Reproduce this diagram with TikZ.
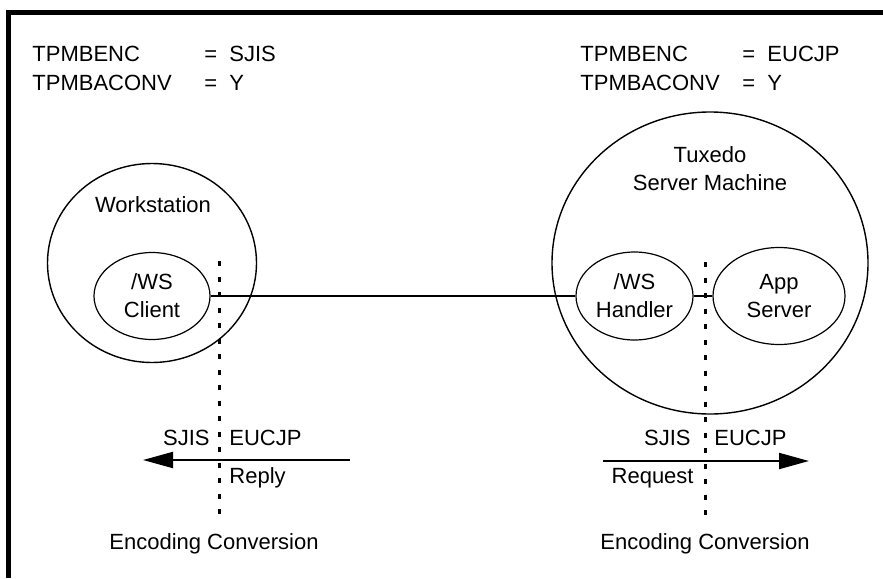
\documentclass[tikz,border=0pt]{standalone}
\usepackage{fontspec}
\setmainfont{Liberation Sans}
\usetikzlibrary{shapes.geometric,arrows.meta,positioning}

\begin{document}
\begin{tikzpicture}[x=0.5pt,y=-0.5pt,
    every node/.style={font=\fontsize{11}{14}\selectfont},
    hostEllipse/.style={draw,ellipse,line width=0.7pt,inner sep=0pt},
    procEllipse/.style={draw,ellipse,line width=0.6pt,inner sep=0pt,align=center},
    convLine/.style={line width=1.5pt,dash pattern=on 2.5pt off 5.25pt},
    flowArrow/.style={line width=1pt,-{Triangle[length=15pt,width=8pt]}},
    lbl/.style={inner sep=0pt}]
    \useasboundingbox (0,0) rectangle (883,578);
    % frame on top and left only
    \draw[line width=2.5pt] (883,12.5) -- (8.5,12.5) -- (8.5,578);

    % environment settings
    \node[lbl,anchor=mid west] (EncKeyL)  at (32,56) {TPMBENC};
    \node[lbl,anchor=mid west] (EncValL)  at (204,56) {= \ SJIS};
    \node[lbl,anchor=mid west] (ConvKeyL) at (32,85) {TPMBACONV};
    \node[lbl,anchor=mid west] (ConvValL) at (204,85) {= \ Y};
    \node[lbl,anchor=mid west] (EncKeyR)  at (580,56) {TPMBENC};
    \node[lbl,anchor=mid west] (EncValR)  at (742,56) {= \ EUCJP};
    \node[lbl,anchor=mid west] (ConvKeyR) at (580,85) {TPMBACONV};
    \node[lbl,anchor=mid west] (ConvValR) at (742,85) {= \ Y};

    % machines
    \node[hostEllipse,minimum width=104.5pt,minimum height=99.5pt] (Workstation) at (152,263) {};
    \node[lbl] (WorkstationName) at (153,205) {Workstation};
    \node[hostEllipse,minimum width=158pt,minimum height=151pt] (Server) at (710,263) {};
    \node[lbl,align=center] (ServerName) at (710,169) {Tuxedo\\Server Machine};

    % processes
    \node[procEllipse,minimum width=58pt,minimum height=43.5pt] (Client) at (152,296) {/WS\\Client};
    \node[procEllipse,minimum width=58.5pt,minimum height=44pt] (Handler) at (634.5,296) {/WS\\Handler};
    \node[procEllipse,minimum width=66pt,minimum height=48.5pt] (AppServer) at (779,296) {App\\Server};
    \draw[line width=0.6pt] (Client.east) -- (Handler.west);
    \draw[line width=0.6pt] (Handler.east) -- (AppServer.west);

    % encoding conversion points
    \coordinate (ConvTopL) at (219,261);
    \coordinate (ConvBotL) at (219,520);
    \coordinate (ConvTopR) at (705,262);
    \coordinate (ConvBotR) at (705,520);
    \draw[convLine] (ConvTopL) -- (ConvBotL);
    \draw[convLine] (ConvTopR) -- (ConvBotR);
    \node[lbl] (ConvNameL) at (214,544) {Encoding Conversion};
    \node[lbl] (ConvNameR) at (705,544) {Encoding Conversion};

    % reply flow
    \coordinate (ReplyStart) at (350,460);
    \coordinate (ReplyEnd)   at (143,460);
    \draw[flowArrow] (ReplyStart) -- (ReplyEnd);
    \node[lbl,anchor=mid east] (SjisL)  at (210,440) {SJIS};
    \node[lbl,anchor=mid west] (EucL)   at (229,440) {EUCJP};
    \node[lbl,anchor=mid west] (Reply)  at (229,478) {Reply};

    % request flow
    \coordinate (RequestStart) at (603,461);
    \coordinate (RequestEnd)   at (809,461);
    \draw[flowArrow] (RequestStart) -- (RequestEnd);
    \node[lbl,anchor=mid east] (SjisR)   at (691,440) {SJIS};
    \node[lbl,anchor=mid west] (EucR)    at (714,440) {EUCJP};
    \node[lbl,anchor=mid east] (Request) at (694,478) {Request};
\end{tikzpicture}
\end{document}
